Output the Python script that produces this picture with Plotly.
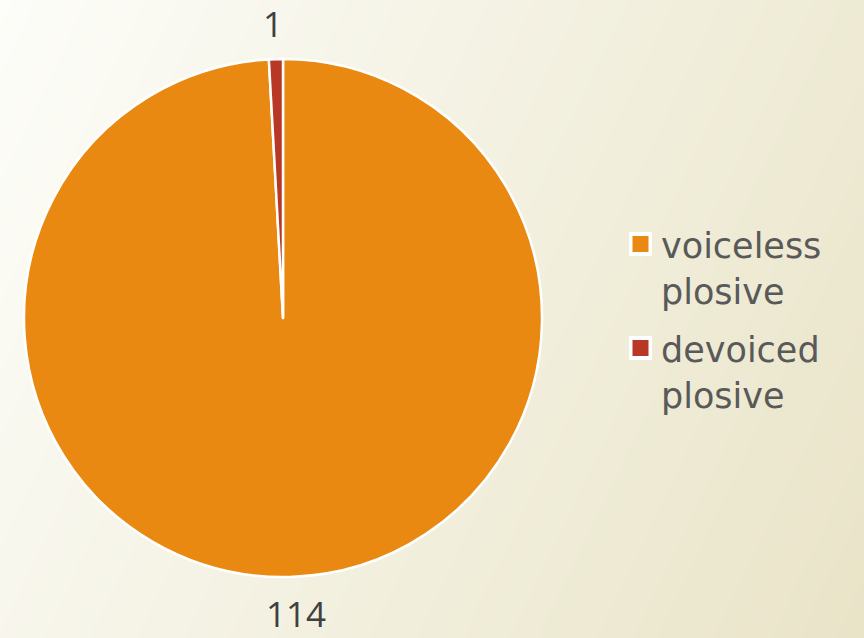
import base64
import struct
import zlib

import numpy as np
import plotly.graph_objects as go

# Data
categories = ["voiceless<br>plosive", "devoiced<br>plosive"]
counts = [114, 1]
slice_colors = ["#E98911", "#B83725"]

W, H = 864, 638
LEGEND_FONT = "'DejaVu Sans', sans-serif"
VALUE_FONT = "'Open Sans', 'DejaVu Sans', sans-serif"


def gradient_png(w, h, c0, c1):
    """Build a small diagonal-gradient PNG and return it as a data URI."""
    xs = np.linspace(0, 1, w)[None, :]
    ys = np.linspace(0, 1, h)[:, None]
    t = np.clip((0.85 * xs + 0.30 * ys) / 1.15, 0, 1)
    c0 = np.array(c0, float)
    c1 = np.array(c1, float)
    img = (c0[None, None, :] * (1 - t[..., None]) + c1[None, None, :] * t[..., None])
    img = img.round().astype(np.uint8)
    raw = b"".join(b"\x00" + img[r].tobytes() for r in range(h))

    def chunk(tag, data):
        c = struct.pack(">I", len(data)) + tag + data
        return c + struct.pack(">I", zlib.crc32(tag + data) & 0xFFFFFFFF)

    png = b"\x89PNG\r\n\x1a\n"
    png += chunk(b"IHDR", struct.pack(">IIBBBBB", w, h, 8, 2, 0, 0, 0))
    png += chunk(b"IDAT", zlib.compress(raw, 9))
    png += chunk(b"IEND", b"")
    return "data:image/png;base64," + base64.b64encode(png).decode()


bg = gradient_png(216, 160, (253, 253, 249), (233, 228, 200))

fig = go.Figure(
    go.Pie(
        labels=categories,
        values=counts,
        sort=False,
        direction="clockwise",
        rotation=0,
        marker=dict(colors=slice_colors, line=dict(color="white", width=2.5)),
        textinfo="none",
        hoverinfo="label+value",
        showlegend=False,
        domain=dict(x=[24 / W, 542 / W], y=[61 / H, 579 / H]),
    )
)

# Value labels outside the pie, text taken from the data
label_pos = [(296 / W, 1 - 613 / H), (273 / W, 1 - 23 / H)]
for v, (px, py) in zip(counts, label_pos):
    fig.add_annotation(
        x=px, y=py, xref="paper", yref="paper",
        xanchor="center", yanchor="middle",
        text=str(v), showarrow=False, borderpad=0,
        font=dict(family=VALUE_FONT, size=35, color="#404040"),
    )


def px_x(v):
    return v / W


def px_y(v):
    return 1 - v / H


# Legend: square swatch with white frame, then a two-line label
legend_rows = [244, 348]  # swatch centre rows (px)
for name, col, cy in zip(categories, slice_colors, legend_rows):
    fig.add_shape(type="rect", xref="paper", yref="paper",
                  x0=px_x(629), x1=px_x(652), y0=px_y(cy - 12), y1=px_y(cy + 12),
                  fillcolor="white", line=dict(width=0), layer="above")
    fig.add_shape(type="rect", xref="paper", yref="paper",
                  x0=px_x(632.5), x1=px_x(648.5), y0=px_y(cy - 8), y1=px_y(cy + 8),
                  fillcolor=col, line=dict(width=0), layer="above")
    fig.add_annotation(
        x=px_x(659), y=px_y(cy - 20), xref="paper", yref="paper",
        xanchor="left", yanchor="top", align="left",
        text=name, showarrow=False,
        font=dict(family=LEGEND_FONT, size=35, color="#595959"),
    )

fig.update_layout(
    width=W,
    height=H,
    margin=dict(l=0, r=0, t=0, b=0),
    paper_bgcolor="rgba(0,0,0,0)",
    plot_bgcolor="rgba(0,0,0,0)",
    images=[dict(
        source=bg, xref="paper", yref="paper", x=0, y=1,
        sizex=1, sizey=1, sizing="stretch", layer="below",
        xanchor="left", yanchor="top",
    )],
)

fig.write_html("out.html")
